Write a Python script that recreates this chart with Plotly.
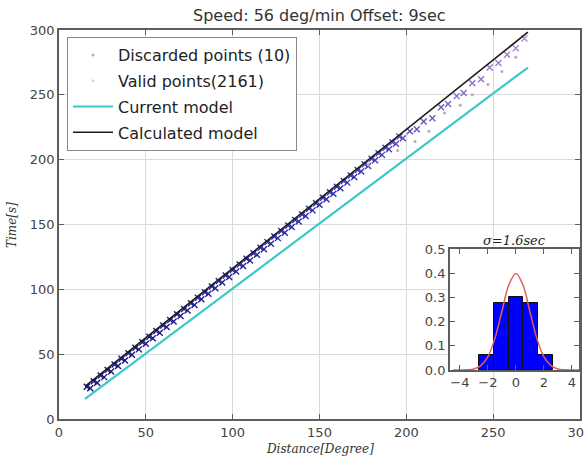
import plotly.graph_objects as go

# ---------------- data ----------------
valid_x = [16, 18, 20, 22, 24, 26, 28, 30, 32, 34, 36, 38, 40, 42, 44, 46, 48, 50, 52, 54,
           56, 58, 60, 62, 64, 66, 68, 70, 72, 74, 76, 78, 80, 82, 84, 86, 88, 90, 92, 94,
           96, 98, 100, 102, 104, 106, 108, 110, 112, 114, 116, 118, 120, 122, 124, 126,
           128, 130, 132, 134, 136, 138, 140, 142, 144, 146, 148, 150, 152, 154, 156, 158,
           160, 162, 164, 166, 168, 170, 172, 174, 176, 178, 180, 182, 184, 186, 188, 190,
           192, 194, 196, 198, 202, 206, 210, 215, 220, 224, 229, 233, 238, 243, 248, 253,
           258, 263, 268]
valid_y = [24.9, 23.7, 29.2, 28.0, 33.5, 32.3, 37.8, 36.6, 42.1, 40.9, 46.4, 45.2, 50.7, 49.5,
           54.9, 53.7, 59.2, 58.0, 63.5, 62.3, 67.8, 66.6, 72.1, 70.9, 76.4, 75.2, 80.7, 79.5,
           84.9, 83.7, 89.2, 88.0, 93.5, 92.3, 97.8, 96.6, 102.1, 100.9, 106.4, 105.2, 110.7,
           109.5, 114.9, 113.7, 119.2, 118.0, 123.5, 122.3, 127.8, 126.6, 132.1, 130.9, 136.4,
           135.2, 140.7, 139.5, 144.9, 143.7, 149.2, 148.0, 153.5, 152.3, 157.8, 156.6, 162.1,
           160.9, 166.4, 165.2, 170.7, 169.5, 174.9, 173.7, 179.2, 178.0, 183.5, 182.3, 187.8,
           186.6, 192.1, 190.9, 196.4, 195.2, 200.7, 199.5, 204.9, 203.7, 209.2, 208.0, 213.5,
           212.3, 217.8, 216.6, 222.0, 223.5, 229.5, 232.0, 240.5, 243.0, 249.0, 251.5, 259.0,
           262.0, 271.0, 274.5, 281.0, 286.0, 293.5]

discarded_x = [178, 195, 205, 213, 222, 231, 238, 247, 255, 263]
discarded_y = [196, 207, 214, 222, 236, 242, 250, 258, 268, 279]

current_x = [15, 270]
current_y = [15.5, 271]
calc_x = [15, 270]
calc_y = [25.1, 298.3]

hist_centers = [-2.1, -1.05, 0.0, 1.05, 2.1]
hist_heights = [0.062, 0.276, 0.302, 0.276, 0.062]
hist_width = 1.05

fit_x = [-4.5, -4.0, -3.5, -3.0, -2.5, -2.0, -1.5, -1.0, -0.5, 0.0,
         0.5, 1.0, 1.5, 2.0, 2.5, 3.0, 3.5, 4.0, 4.5]
fit_y = [0.0, 0.0001, 0.0009, 0.0044, 0.018, 0.054, 0.130, 0.242, 0.352, 0.399,
         0.352, 0.242, 0.130, 0.054, 0.018, 0.0044, 0.0009, 0.0001, 0.0]

main_ticks = [0, 50, 100, 150, 200, 250, 300]
inset_xticks = [-4, -2, 0, 2, 4]
inset_xticktext = ["\u22124", "\u22122", "0", "2", "4"]
inset_yticks = [0.0, 0.1, 0.2, 0.3, 0.4, 0.5]

title_text = "Speed: 56 deg/min Offset: 9sec"
sigma_text = "\u03c3=1.6sec"

# ---------------- figure ----------------
fig = go.Figure()

fig.add_trace(go.Scatter(x=current_x, y=current_y, mode="lines", name="Current model",
                         line=dict(color="#3cc8c8", width=2.2), legendrank=3,
                         legendgroup="c"))
fig.add_trace(go.Scatter(x=valid_x, y=valid_y, mode="markers", showlegend=False,
                         marker=dict(symbol="x-thin-open", size=6, color=valid_x,
                                     colorscale=[[0, "#14147a"], [0.6, "#3030b0"], [1, "#b08ad0"]],
                                     line=dict(width=1.4))))
fig.add_trace(go.Scatter(x=discarded_x, y=discarded_y, mode="markers",
                         name="Discarded points (10)", legendrank=1, legendgroup="a",
                         marker=dict(symbol="circle", size=3, color="#c9a0b8")))
fig.add_trace(go.Scatter(x=[None], y=[None], mode="markers", name="Valid points(2161)",
                         legendrank=2, legendgroup="b",
                         marker=dict(symbol="circle", size=3, color="#e3d9a0")))
fig.add_trace(go.Scatter(x=calc_x, y=calc_y, mode="lines", name="Calculated model",
                         line=dict(color="#1a1a1a", width=1.6), legendrank=4,
                         legendgroup="d"))

# inset
fig.add_trace(go.Scatter(x=fit_x, y=fit_y, mode="lines", xaxis="x2", yaxis="y2",
                         showlegend=False, line=dict(color="#e06060", width=1.5, shape="spline")))
fig.add_trace(go.Bar(x=hist_centers, y=hist_heights, width=hist_width, xaxis="x2", yaxis="y2",
                     showlegend=False, marker=dict(color="#0000ff", line=dict(color="#101010", width=1))))

axis_common = dict(showline=True, linecolor="#5e5e5e", linewidth=1.8, mirror="allticks",
                   ticks="inside", ticklen=5, tickcolor="#5e5e5e",
                   tickfont=dict(family="DejaVu Sans", size=13, color="#444"),
                   zeroline=False, ticklabeloverflow="allow")

fig.update_layout(
    width=585, height=460,
    margin=dict(l=59, r=5, t=30, b=41),
    paper_bgcolor="white", plot_bgcolor="white",
    bargap=0,
    xaxis=dict(domain=[0, 1], range=[0, 300], tickvals=main_ticks, showgrid=True,
               gridcolor="#dadada", gridwidth=1, automargin=False, **axis_common),
    yaxis=dict(domain=[0, 1], range=[0, 300], tickvals=main_ticks, showgrid=True,
               gridcolor="#dadada", gridwidth=1, automargin=False, **axis_common),
    xaxis2=dict(domain=[0.7505, 0.998], anchor="y2", range=[-4.7, 4.5],
                tickvals=inset_xticks, ticktext=inset_xticktext, showgrid=False,
                **axis_common),
    yaxis2=dict(domain=[0.126, 0.437], anchor="x2", range=[0, 0.5],
                tickvals=inset_yticks, tickformat=".1f", showgrid=False,
                **axis_common),
    legend=dict(x=0.0154, y=0.982, xanchor="left", yanchor="top",
                bgcolor="white", bordercolor="#8a8a8a", borderwidth=1,
                font=dict(family="DejaVu Sans", size=16, color="#222"),
                tracegroupgap=2, itemwidth=40),
    showlegend=True,
    annotations=[
        dict(text=title_text, x=0.5, y=1.036, xref="paper", yref="paper",
             showarrow=False, xanchor="center", yanchor="middle",
             font=dict(family="DejaVu Sans", size=16, color="#333")),
        dict(text="<i>Distance[Degree]</i>", x=0.5, y=-0.077, xref="paper", yref="paper",
             showarrow=False, xanchor="center", yanchor="middle",
             font=dict(family="DejaVu Serif", size=12, color="#333")),
        dict(text="<i>Time[s]</i>", x=-0.090, y=0.499, xref="paper", yref="paper",
             showarrow=False, xanchor="center", yanchor="middle", textangle=-90,
             font=dict(family="DejaVu Serif", size=12, color="#333")),
        dict(text="<i>" + sigma_text + "</i>", x=0.875, y=0.46, xref="paper", yref="paper",
             showarrow=False, xanchor="center", yanchor="middle",
             font=dict(family="DejaVu Serif", size=13, color="#222")),
    ],
)

fig.write_html("out.html", config={"displayModeBar": False},
               post_script="document.body.style.margin='0';document.body.style.overflow='hidden';")
